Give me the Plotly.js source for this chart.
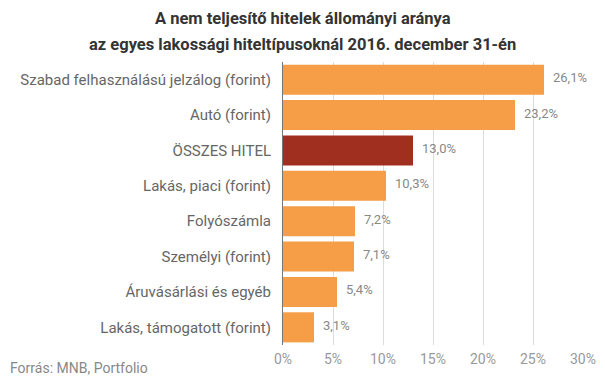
<!DOCTYPE html>
<html><head><meta charset="utf-8">
<script src="https://cdn.plot.ly/plotly-3.0.1.min.js"></script>
<style>html,body{margin:0;padding:0;background:#fff}#c{width:605px;height:379px}</style>
</head><body><div id="c"></div>
<script>
const categories = ["Szabad felhasználású jelzálog (forint)","Autó (forint)","ÖSSZES HITEL","Lakás, piaci (forint)","Folyószámla","Személyi (forint)","Áruvásárlási és egyéb","Lakás, támogatott (forint)"];
const values = [26.1, 23.2, 13.0, 10.3, 7.2, 7.1, 5.4, 3.1];
const tickVals = [0,5,10,15,20,25,30];
const tickText = ["0%","5%","10%","15%","20%","25%","30%"];
const colors = categories.map(c => c === "ÖSSZES HITEL" ? "#A12F20" : "#F59D47");
const labels = values.map(v => v.toFixed(1).replace('.', ',') + '%');

const valueAnns = categories.map((c, i) => ({
  x: values[i], y: c, xref: 'x', yref: 'y', text: labels[i], showarrow: false,
  xanchor: 'left', yanchor: 'middle', xshift: 7, yshift: 2,
  font: {family: 'Roboto', size: 13, color: '#888'}
}));

Plotly.newPlot('c', [{
  type: 'bar', orientation: 'h',
  y: categories, x: values,
  marker: {color: colors},
  hoverinfo: 'none'
}], {
  width: 605, height: 379,
  margin: {l: 283, r: 22, t: 62, b: 34},
  paper_bgcolor: '#fff', plot_bgcolor: '#fff',
  bargap: 0.15,
  xaxis: {range: [0, 30], tickvals: tickVals, ticktext: tickText, showgrid: true, gridcolor: '#dcdcdc', gridwidth: 1,
    zeroline: false, showline: false, ticks: '', ticklabelstandoff: 4, tickfont: {family: 'Roboto', size: 14, color: '#999'}, fixedrange: true},
  yaxis: {autorange: 'reversed', showline: true, linecolor: '#777', linewidth: 1, ticks: '', ticklen: 0, ticklabelstandoff: 8,
    tickfont: {family: 'Roboto', size: 15, color: '#666'}, fixedrange: true},
  showlegend: false,
  annotations: valueAnns.concat([
    {text: '<b>A nem teljesítő hitelek állományi aránya</b>', xref: 'paper', yref: 'paper', x: (302.5-283)/300, y: 1 + (62-18)/283,
      xanchor: 'center', yanchor: 'middle', showarrow: false, font: {family: 'Roboto', size: 16.5, color: '#333'}},
    {text: '<b>az egyes lakossági hiteltípusoknál 2016. december 31-én</b>', xref: 'paper', yref: 'paper', x: (302.5-283)/300, y: 1 + (62-44)/283,
      xanchor: 'center', yanchor: 'middle', showarrow: false, font: {family: 'Roboto', size: 16.5, color: '#333'}},
    {text: 'Forrás: MNB, Portfolio', xref: 'paper', yref: 'paper', x: (8-283)/300, y: -(368-345)/283,
      xanchor: 'left', yanchor: 'middle', showarrow: false, font: {family: 'Roboto', size: 14, color: '#888'}}])
}, {displayModeBar: false, staticPlot: true});
</script></body></html>
